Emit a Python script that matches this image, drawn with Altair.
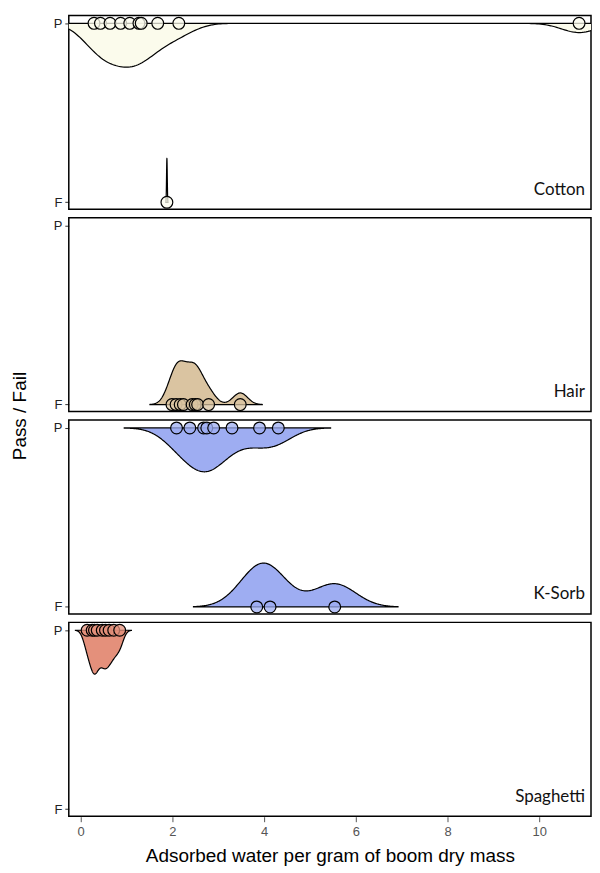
import altair as alt
import pandas as pd

materials = ["Cotton", "Hair", "K-Sorb", "Spaghetti"]

cotton_pass = [0.29, 0.43, 0.64, 0.87, 1.07, 1.27, 1.32, 1.68, 2.14, 10.87]
cotton_fail = [1.88]
hair_fail = [1.99, 2.08, 2.17, 2.24, 2.43, 2.50, 2.55, 2.79, 3.48]
ksorb_pass = [2.09, 2.38, 2.68, 2.75, 2.90, 3.30, 3.90, 4.31]
ksorb_fail = [3.84, 4.13, 5.54]
spaghetti_pass = [0.14, 0.25, 0.30, 0.36, 0.47, 0.54, 0.62, 0.72, 0.85]

# (material, result, values, kernel bandwidth)
groups = [
    ("Cotton", "P", cotton_pass, 0.38),
    ("Cotton", "F", cotton_fail, 0.008),
    ("Hair", "F", hair_fail, 0.16),
    ("K-Sorb", "P", ksorb_pass, 0.38),
    ("K-Sorb", "F", ksorb_fail, 0.46),
    ("Spaghetti", "P", spaghetti_pass, 0.085),
]

area_colors = ["#FBFBEC", "#DAC4A1", "#9EADF2", "#E4907B"]
point_colors = ["#F6F6E4", "#D5B98C", "#6F86E8", "#E05A43"]

rows = []
for mat, res, vals, bw in groups:
    for v in vals:
        rows.append({"material": mat, "result": res, "value": v})
df = pd.DataFrame(rows)

H = 0.245  # max half-violin width in y units

FONT = "Liberation Sans"
x_scale = alt.Scale(domain=[-0.26, 11.13], nice=False, zero=False)
y_scale = alt.Scale(domain=[-0.039, 1.044], nice=False, zero=False)
x_axis = alt.Axis(values=[0, 2, 4, 6, 8, 10], grid=False, domain=False,
                  tickColor="#555555", tickSize=5, labelColor="#555555",
                  labelFontSize=13, labelFont=FONT, labelPadding=4,
                  titleFont=FONT, titleFontSize=19, titleFontWeight="normal",
                  titleColor="black", titlePadding=8)
y_axis = alt.Axis(values=[0, 1], labelExpr="datum.value == 1 ? 'P' : 'F'",
                  grid=False, domain=False, tickColor="#333333", tickSize=4,
                  labelColor="#222222", labelFontSize=13, labelFont=FONT,
                  labelPadding=3, title=None)
XT = "Adsorbed water per gram of boom dry mass"
YT = "Pass / Fail"
fill_area = alt.Fill("material:N", scale=alt.Scale(domain=materials, range=area_colors), legend=None)
fill_pt = alt.Fill("material:N", scale=alt.Scale(domain=materials, range=point_colors), legend=None)

layers = []
for mat, res, vals, bw in groups:
    lo, hi = min(vals) - 3 * bw, max(vals) + 3 * bw
    if res == "P":
        expr_y = f"1 - {H} * datum.density / datum.dmax"
        base = "1"
    else:
        expr_y = f"{H} * datum.density / datum.dmax"
        base = "0"
    layer = (
        alt.Chart()
        .transform_filter((alt.datum.material == mat) & (alt.datum.result == res))
        .transform_density("value", as_=["value", "density"], bandwidth=bw,
                           extent=[lo, hi], steps=300, groupby=["material", "result"])
        .transform_joinaggregate(dmax="max(density)", groupby=["material", "result"])
        .transform_calculate(yy=expr_y, yb=base)
        .mark_area(orient="vertical", stroke="black", strokeWidth=1.2, clip=True)
        .encode(
            x=alt.X("value:Q", scale=x_scale, axis=x_axis, title=XT),
            y=alt.Y("yy:Q", scale=y_scale, axis=y_axis),
            y2="yb:Q",
            fill=fill_area,
        )
    )
    layers.append(layer)

points = (
    alt.Chart()
    .transform_calculate(yp="datum.result == 'P' ? 1 : 0")
    .mark_circle(size=140, stroke="black", strokeWidth=1.2, fillOpacity=0.75,
                 strokeOpacity=1, opacity=1)
    .encode(
        x=alt.X("value:Q", scale=x_scale, axis=x_axis, title=XT),
        y=alt.Y("yp:Q", scale=y_scale, axis=y_axis),
        fill=fill_pt,
    )
)

labels = (
    alt.Chart()
    .transform_aggregate(n="count()", groupby=["material"])
    .mark_text(align="right", baseline="middle", font="Lato", fontSize=17, color="#111111")
    .encode(x=alt.value(518), y=alt.value(175), text="material:N")
)

chart = (
    alt.layer(*layers, points, labels, data=df)
    .properties(width=524, height=194.5)
    .facet(
        row=alt.Row("material:N", sort=materials, title=YT,
                    header=alt.Header(labels=False, titleFont=FONT, titleFontSize=19,
                                      titleFontWeight="normal", titleColor="black",
                                      titleOrient="left", titlePadding=13)),
        spacing=8,
        bounds="flush",
    )
    .properties(padding={"left": 2, "top": 4, "right": 0, "bottom": 5})
    .configure_view(stroke="black", strokeWidth=1.5)
)

chart.save("out.html", embed_options={"renderer": "svg", "actions": False})
